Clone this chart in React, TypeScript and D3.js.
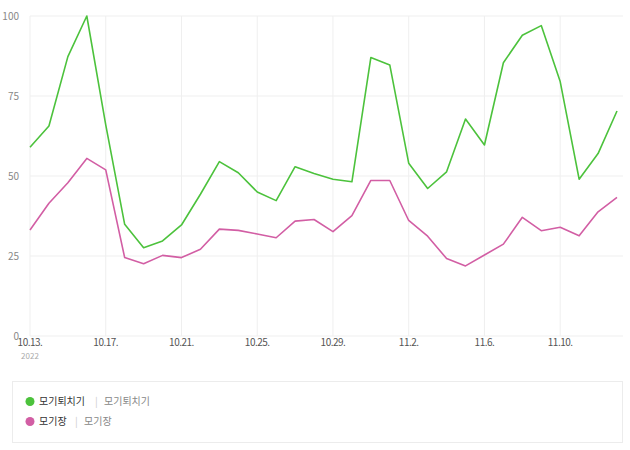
import React from "react";
import * as d3 from "d3";

const dates: string[] = [
  "2022-10-13","2022-10-14","2022-10-15","2022-10-16","2022-10-17","2022-10-18","2022-10-19","2022-10-20",
  "2022-10-21","2022-10-22","2022-10-23","2022-10-24","2022-10-25","2022-10-26","2022-10-27","2022-10-28",
  "2022-10-29","2022-10-30","2022-10-31","2022-11-01","2022-11-02","2022-11-03","2022-11-04","2022-11-05",
  "2022-11-06","2022-11-07","2022-11-08","2022-11-09","2022-11-10","2022-11-11","2022-11-12","2022-11-13",
];
const repellentValues: number[] = [
  59, 65.6, 87.3, 100, 66, 34.9, 27.6, 29.7, 34.7, 44.3, 54.5, 51, 45, 42.3, 52.9, 50.8,
  49, 48.2, 87, 84.7, 54, 46.1, 51.3, 67.8, 59.7, 85.4, 94, 97, 79.5, 49, 57, 70.3,
];
const netValues: number[] = [
  33.1, 41.5, 47.9, 55.5, 51.9, 24.5, 22.6, 25.2, 24.5, 27.1, 33.4, 33, 31.9, 30.7, 35.9, 36.4,
  32.6, 37.6, 48.6, 48.6, 36.1, 31.2, 24.2, 21.9, 25.3, 28.7, 37.1, 32.9, 34, 31.3, 38.8, 43.3,
];
const yTicks: number[] = [0, 25, 50, 75, 100];
const xTickLabels: string[] = ["10.13.", "10.17.", "10.21.", "10.25.", "10.29.", "11.2.", "11.6.", "11.10."];
const seriesNames: string[] = ["모기퇴치기", "모기장"];
const seriesColors: string[] = ["#4cc23c", "#d25ea4"];

export default function App() {
  const W = 630, H = 450;
  const left = 30, right = 617, top = 16, bottom = 336;
  const parse = d3.timeParse("%Y-%m-%d");
  const ds = dates.map((d) => parse(d) as Date);
  const x = d3.scaleTime().domain([ds[0], ds[ds.length - 1]]).range([left, right]);
  const y = d3.scaleLinear().domain([0, 100]).range([bottom, top]);
  const tickIdx = xTickLabels.map((_, i) => i * 4);
  const line = d3.line<number>().x((_, i) => x(ds[i])).y((v) => y(v));
  const series = [repellentValues, netValues];
  const font = "'Noto Sans CJK KR', 'Noto Sans', sans-serif";

  return (
    <svg width={W} height={H} style={{ position: "absolute", left: 0, top: 0, background: "#fff" }} fontFamily={font}>
      {yTicks.map((t) => (
        <g key={"y" + t}>
          <line x1={left} x2={623} y1={y(t)} y2={y(t)} stroke="#efefef" strokeWidth={1} />
          <text x={19} y={y(t)} dy="0.35em" textAnchor="end" fontSize={10} fill="#888">{t}</text>
        </g>
      ))}
      {tickIdx.map((i, k) => (
        <g key={"x" + i}>
          <line x1={x(ds[i])} x2={x(ds[i])} y1={top} y2={bottom} stroke="#efefef" strokeWidth={1} />
          <text x={x(ds[i])} y={346} textAnchor="middle" fontSize={10} fill="#555" letterSpacing={-0.5}>{xTickLabels[k]}</text>
        </g>
      ))}
      <text x={x(ds[0])} y={359} textAnchor="middle" fontSize={8} fill="#aaa">2022</text>
      {series.map((s, k) => (
        <path key={"s" + k} d={line(s) || ""} fill="none" stroke={seriesColors[k]} strokeWidth={1.6} strokeLinejoin="round" />
      ))}
      <rect x={12.5} y={381.5} width={610} height={61} fill="#fff" stroke="#ececec" />
      {seriesNames.map((n, k) => (
        <g key={"l" + k} transform={`translate(0, ${401.5 + k * 20})`}>
          <circle cx={30} cy={0} r={4.5} fill={seriesColors[k]} />
          <text x={39} y={0} dy="0.35em" fontSize={10} fill="#333">{n}</text>
          <text x={39 + n.length * 10 + 6} y={0} dy="0.35em" fontSize={10} fill="#ccc">|</text>
          <text x={39 + n.length * 10 + 15} y={0} dy="0.35em" fontSize={10} fill="#888">{n}</text>
        </g>
      ))}
    </svg>
  );
}
